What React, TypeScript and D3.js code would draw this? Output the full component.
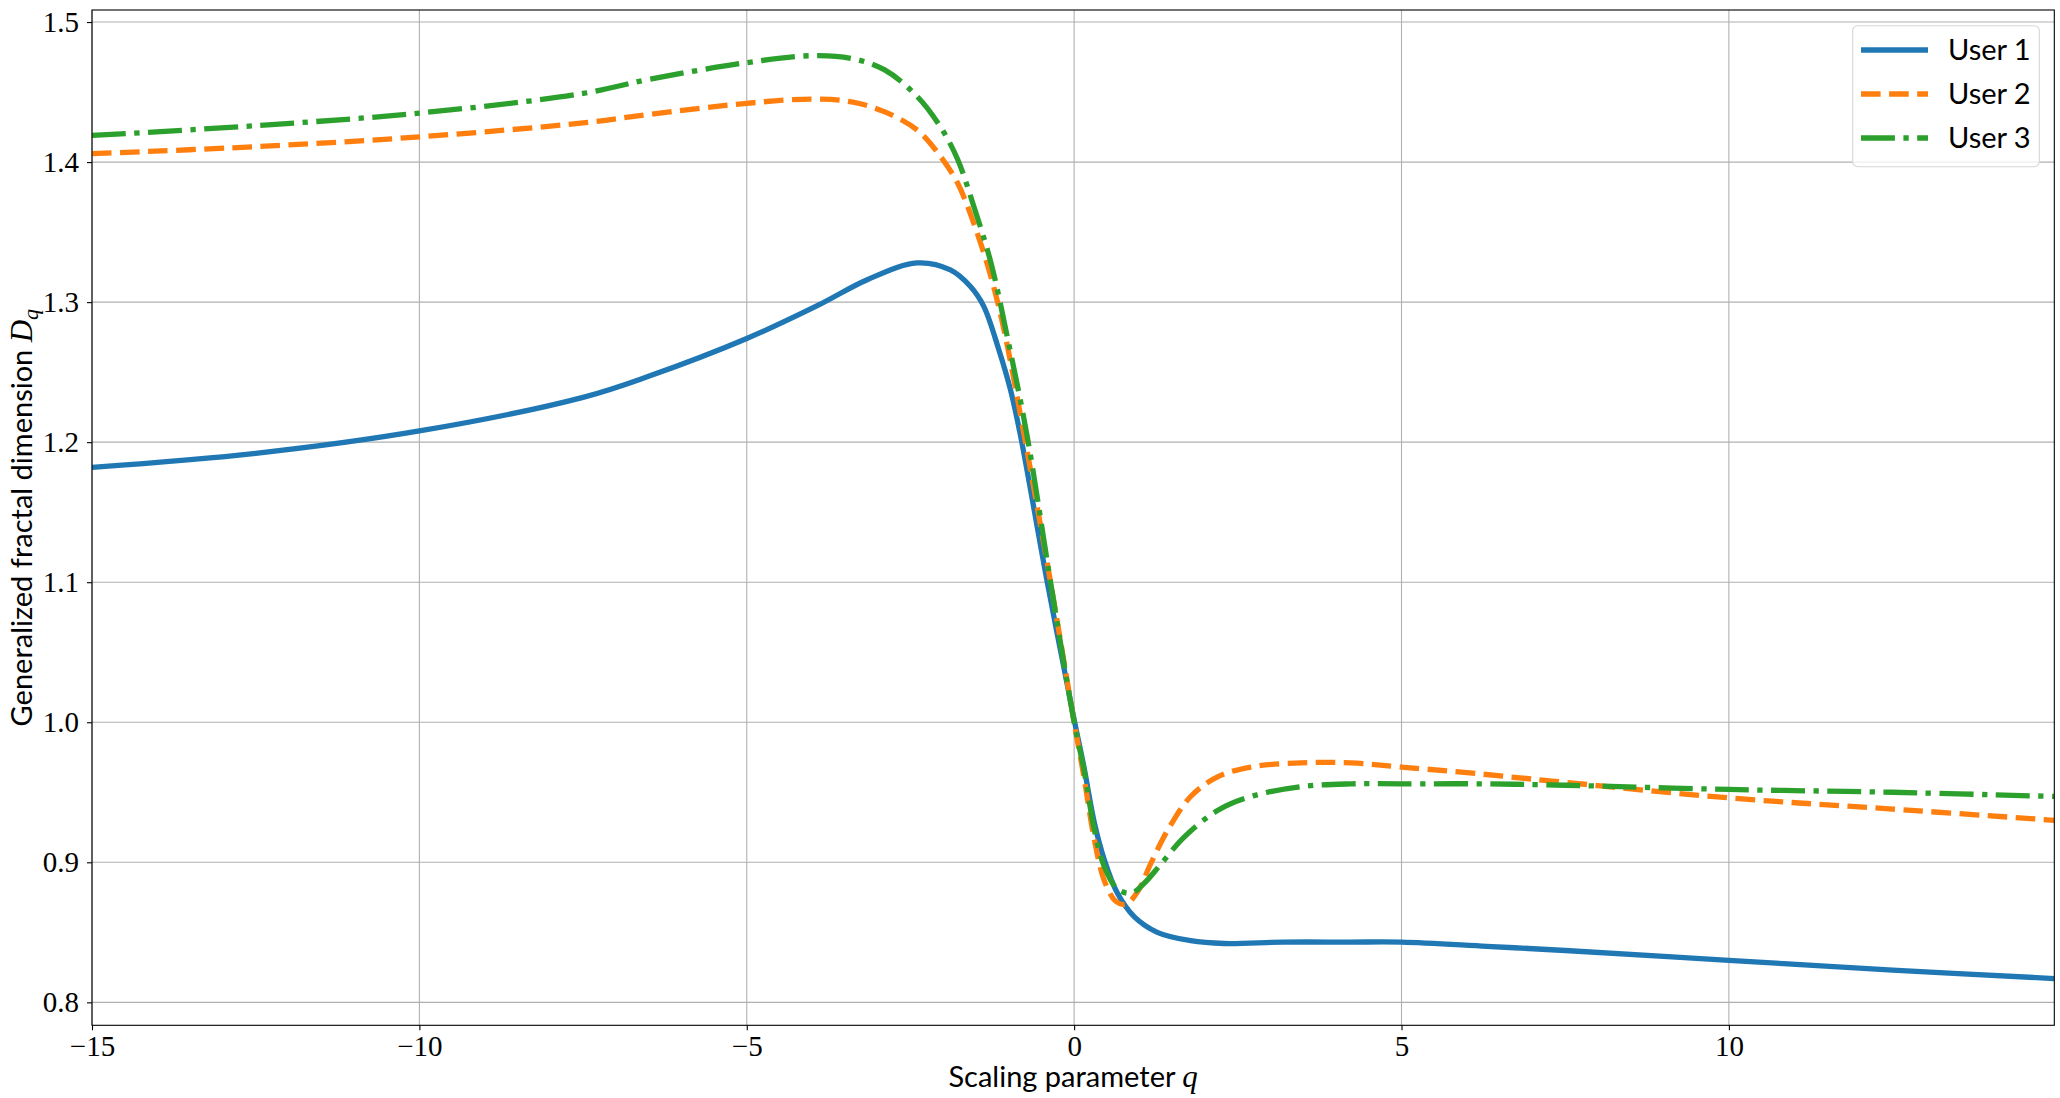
import React, { useEffect, useRef } from 'react';
import * as d3 from 'd3';

// values
const user1Q = [-15, -12.5, -10, -7.5, -6.5, -5, -3.9, -3.16, -2.4, -1.89, -1.58, -1.38, -1.15, -0.97, -0.82, -0.41, 0, 0.15, 0.31, 0.46, 0.66, 0.92, 1.27, 1.78, 2.29, 3.2, 4.2, 5, 6.3, 7.5, 10, 12.5, 14.97];
const user1D = [1.182, 1.192, 1.208, 1.232, 1.247, 1.274, 1.298, 1.316, 1.328, 1.323, 1.311, 1.297, 1.266, 1.237, 1.205, 1.1, 1.002, 0.968, 0.928, 0.902, 0.878, 0.861, 0.85, 0.844, 0.842, 0.843, 0.843, 0.843, 0.84, 0.837, 0.83, 0.823, 0.817];

const user2Q = [-15, -12.5, -10, -7.5, -6.5, -5, -4.0, -3.4, -2.9, -2.4, -2.04, -1.78, -1.53, -1.27, -1.07, -0.85, -0.36, 0, 0.15, 0.31, 0.46, 0.64, 0.79, 0.97, 1.17, 1.43, 1.78, 2.19, 2.7, 3.47, 4.23, 5, 6, 7.3, 10, 12.5, 14.97];
const user2D = [1.406, 1.411, 1.418, 1.428, 1.434, 1.442, 1.445, 1.443, 1.436, 1.423, 1.404, 1.385, 1.356, 1.318, 1.28, 1.227, 1.1, 1.0, 0.961, 0.916, 0.887, 0.872, 0.87, 0.879, 0.899, 0.923, 0.947, 0.961, 0.968, 0.971, 0.971, 0.968, 0.964, 0.958, 0.946, 0.938, 0.93];

const user3Q = [-15, -12.5, -10, -7.5, -6.5, -5, -4.0, -3.4, -2.9, -2.4, -2.04, -1.78, -1.53, -1.27, -1.02, -0.72, -0.36, 0, 0.15, 0.31, 0.46, 0.66, 0.87, 1.07, 1.33, 1.68, 2.19, 2.7, 3.47, 4.23, 5, 6.3, 7.5, 10, 12.5, 14.97];
const user3D = [1.419, 1.426, 1.435, 1.449, 1.459, 1.471, 1.476, 1.474, 1.466, 1.447, 1.425, 1.402, 1.368, 1.328, 1.275, 1.205, 1.1, 1.0, 0.966, 0.923, 0.897, 0.881, 0.878, 0.885, 0.899, 0.918, 0.937, 0.947, 0.954, 0.956, 0.956, 0.956, 0.955, 0.952, 0.95, 0.947];

const xTicks = [-15, -10, -5, 0, 5, 10];
const yTicks = [0.8, 0.9, 1.0, 1.1, 1.2, 1.3, 1.4, 1.5];
const seriesNames = ['User 1', 'User 2', 'User 3'];

const W = 2060;
const H = 1098;
const LW = 5.3;

const series = [
  { name: seriesNames[0], q: user1Q, d: user1D, color: '#1f77b4', dash: null as string | null },
  { name: seriesNames[1], q: user2Q, d: user2D, color: '#ff7f0e', dash: `${3.7 * LW},${1.6 * LW}` },
  { name: seriesNames[2], q: user3Q, d: user3D, color: '#2ca02c', dash: `${6.4 * LW},${1.6 * LW},${1 * LW},${1.6 * LW}` },
];

const fmt = (v: number) => (v < 0 ? '\u2212' + Math.abs(v) : String(v));

const App: React.FC = () => {
  const svgRef = useRef<SVGSVGElement>(null);

  useEffect(() => {
    document.body.style.margin = '0';
    if (!svgRef.current) return;
    const svg = d3.select(svgRef.current);
    svg.selectAll('*').remove();

    const left = 92, right = 2054.3, top = 10, bottom = 1025.3;
    const x = d3.scaleLinear().domain([-15, 14.97]).range([left, right]);
    const y = d3.scaleLinear().domain([0.7836, 1.5086]).range([bottom, top]);

    svg.append('defs').append('clipPath').attr('id', 'plot-clip')
      .append('rect')
      .attr('x', left).attr('y', top)
      .attr('width', right - left).attr('height', bottom - top);

    // grid
    const grid = svg.append('g').attr('stroke', '#b0b0b0').attr('stroke-width', 1.1);
    xTicks.forEach(t => {
      grid.append('line').attr('x1', x(t)).attr('x2', x(t)).attr('y1', top).attr('y2', bottom);
    });
    yTicks.forEach(t => {
      grid.append('line').attr('x1', left).attr('x2', right).attr('y1', y(t)).attr('y2', y(t));
    });

    // curves
    const line = d3.line<[number, number]>()
      .x(p => x(p[0]))
      .y(p => y(p[1]))
      .curve(d3.curveCatmullRom.alpha(0.5));

    const lines = svg.append('g').attr('clip-path', 'url(#plot-clip)');
    series.forEach(s => {
      const pts = s.q.map((q, i) => [q, s.d[i]] as [number, number]);
      lines.append('path')
        .attr('d', line(pts))
        .attr('fill', 'none')
        .attr('stroke', s.color)
        .attr('stroke-width', LW)
        .attr('stroke-dasharray', s.dash)
        .attr('stroke-linecap', 'butt')
        .attr('stroke-linejoin', 'round');
    });

    // axes
    const xAxis = svg.append('g')
      .attr('transform', `translate(0,${bottom})`)
      .call(d3.axisBottom(x).tickValues(xTicks).tickFormat(d => fmt(+d)).tickSize(5).tickSizeOuter(0).tickPadding(5));
    const yAxis = svg.append('g')
      .attr('transform', `translate(${left},0)`)
      .call(d3.axisLeft(y).tickValues(yTicks).tickFormat(d => (+d).toFixed(1)).tickSize(5).tickSizeOuter(0).tickPadding(8));
    [xAxis, yAxis].forEach(a => {
      a.select('.domain').remove();
      a.selectAll('line').attr('stroke', '#000').attr('stroke-width', 1.1);
      a.selectAll('text')
        .attr('fill', '#000')
        .style('font-family', '"Liberation Serif", "DejaVu Serif", serif')
        .style('font-size', '29px');
    });

    // frame
    svg.append('rect')
      .attr('x', left).attr('y', top)
      .attr('width', right - left).attr('height', bottom - top)
      .attr('fill', 'none').attr('stroke', '#000').attr('stroke-width', 1.1);

    // axis labels
    const sans = 'Lato, "Open Sans", sans-serif';
    const xl = svg.append('text')
      .attr('x', (left + right) / 2).attr('y', 1087)
      .attr('text-anchor', 'middle')
      .style('font-family', sans).style('font-size', '29px');
    xl.append('tspan').text('Scaling parameter ');
    xl.append('tspan').text('q').style('font-family', '"Liberation Serif", serif').style('font-style', 'italic').style('font-size', '31px');

    const yl = svg.append('text')
      .attr('transform', `translate(32,${(top + bottom) / 2}) rotate(-90)`)
      .attr('text-anchor', 'middle')
      .style('font-family', sans).style('font-size', '29px');
    yl.append('tspan').text('Generalized fractal dimension ');
    yl.append('tspan').text('D').style('font-family', '"Liberation Serif", serif').style('font-style', 'italic').style('font-size', '31px');
    yl.append('tspan').text('q').attr('dy', 6).style('font-family', '"Liberation Serif", serif').style('font-style', 'italic').style('font-size', '22px');

    // legend
    const lg = svg.append('g');
    lg.append('rect')
      .attr('x', 1852.7).attr('y', 25.7)
      .attr('width', 2039.3 - 1852.7).attr('height', 166.7 - 25.7)
      .attr('rx', 5)
      .attr('fill', 'rgba(255,255,255,0.8)')
      .attr('stroke', '#d6d6d6').attr('stroke-width', 1.1);
    series.forEach((s, i) => {
      const ry = 50 + i * 44;
      lg.append('line')
        .attr('x1', 1861).attr('x2', 1928).attr('y1', ry).attr('y2', ry)
        .attr('stroke', s.color).attr('stroke-width', LW)
        .attr('stroke-dasharray', s.dash);
      lg.append('text')
        .attr('x', 1948).attr('y', ry).attr('dy', '0.36em')
        .style('font-family', sans).style('font-size', '29px')
        .text(s.name);
    });
  }, []);

  return <svg ref={svgRef} width={W} height={H} style={{ display: 'block', background: '#fff' }} />;
};

export default App;
